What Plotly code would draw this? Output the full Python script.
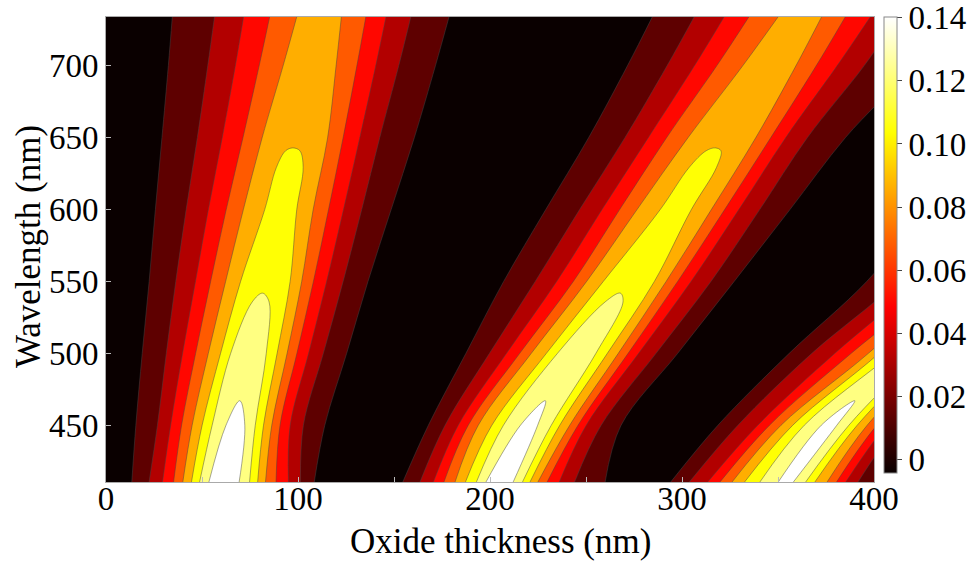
import plotly.graph_objects as go

wavelength_nm = [410, 450, 500, 550, 600, 650, 700, 735]

# Feature columns: left edge, lobe 1 (8 rising levels, peak, 8 falling levels),
# valley, lobe 2 (17), valley, lobe 3 (17)
feature_index = list(range(54))

# Oxide thickness (nm) of each feature on each wavelength row
thickness_410 = [0, 13.3, 22.3, 29.3, 35.1, 39.9, 44.4, 48.6, 53.4, 61.4, 69.4, 74.8, 79.0, 83.1, 88.6, 95.1, 101.4, 108.5,
                 131, 154.3, 163.3, 170.3, 175.8, 181.6, 187.0, 192.7, 197.6, 204.8, 212.0, 216.8, 220.7, 224.8, 229.6, 236.0, 244.0, 260.1,
                 277, 293.7, 303.4, 313.0, 319.4, 325.7, 332.2, 340.2, 349.8, 353.8, 357.8, 364.2, 369.0, 375.4, 380.3, 385.1, 391.5, 404]
thickness_450 = [0, 15.4, 26.7, 33.6, 39.3, 44.8, 50.0, 55.2, 62.2, 67.4, 72.6, 77.8, 82.1, 86.4, 90.7, 96.0, 102.9, 114.1,
                 141, 167.8, 176.5, 183.4, 188.6, 193.8, 200.9, 206.9, 215.6, 220.4, 225.1, 232.0, 236.4, 241.6, 245.9, 250.2, 258.0, 268.4,
                 293, 318.6, 329.0, 339.4, 345.5, 351.5, 357.6, 363.6, 372.3, 376.6, 380.9, 387.0, 391.3, 396.5, 401.5, 406.5, 412.5, 424]
thickness_500 = [0, 18.7, 31.3, 39.8, 46.6, 53.2, 59.6, 64.8, 69.5, 74.2, 79.0, 83.6, 89.2, 94.4, 99.5, 105.6, 113.3, 125.5,
                 156, 187.3, 199.6, 208.5, 215.4, 221.4, 229.3, 235.0, 240.2, 245.3, 250.3, 255.3, 261.2, 266.9, 272.0, 277.5, 286.6, 297.9,
                 326, 355.7, 367.5, 379.5, 388.0, 397.0, 402.5, 409.5, 412.5, 416.0, 419.5, 423, 428, 433, 438, 443, 450, 462]
thickness_550 = [0, 22.3, 36.2, 46.5, 54.4, 62.2, 70.0, 74.5, 78.8, 83.0, 87.3, 91.6, 96.0, 102.0, 108.1, 115.0, 123.6, 136.6,
                 172, 206.9, 223.4, 234.6, 243.3, 250.2, 258.9, 263.3, 267.8, 272.3, 276.8, 281.2, 285.7, 291.8, 297.8, 304.8, 315.2, 327.3,
                 360, 396, 412, 423, 433.5, 438, 442, 447, 451, 455, 459, 463, 467, 472, 477, 482, 490, 503]
thickness_600 = [0, 25.5, 41.6, 53.2, 62.5, 71.4, 82.5, 85.5, 88.3, 91.0, 93.8, 96.6, 99.5, 108.0, 116.0, 123.8, 133.3, 148.7,
                 188, 228.8, 246.5, 258.2, 267.4, 276.4, 288.5, 291.2, 293.8, 296.4, 299.3, 302.1, 305.0, 315.4, 322.3, 329.7, 340.6, 356.4,
                 393, 427, 445, 458, 468, 476, 484, 489, 493, 497, 501, 505, 510, 518, 526, 534, 545, 560]
thickness_650 = [0, 28.9, 47.4, 60.4, 71.2, 81.2, 87.0, 91.0, 94.7, 98.4, 102.6, 107.0, 111.3, 115.5, 123.6, 132.3, 142.7, 160.8,
                 203, 251.1, 270.1, 282.3, 291.8, 303.0, 308.5, 312.5, 316.7, 320.8, 325.0, 329.2, 333.5, 338.5, 346.3, 354.1, 365.4, 385.3,
                 426, 463, 483, 497, 508, 518, 524, 528, 531, 534, 537, 540, 544, 552, 561, 570, 583, 600]
thickness_700 = [0, 32.2, 52.8, 67.2, 79.6, 92.0, 96.5, 99.8, 102.8, 105.7, 109.5, 113.3, 116.7, 120.0, 130.8, 140.6, 152.6, 171.8,
                 221, 271.3, 292.0, 306.3, 317.9, 331.4, 335.3, 338.7, 342.0, 345.3, 348.8, 352.3, 356.0, 359.5, 370.0, 380.9, 395.0, 420.0,
                 458, 500, 521, 536, 548, 559, 565, 569, 572, 575, 578, 581, 585, 592, 602, 612, 626, 645]
thickness_735 = [0, 34.3, 56.4, 71.6, 85.2, 99.0, 103.0, 106.0, 108.5, 111.0, 113.5, 116.5, 119.8, 123.1, 135.6, 146.1, 159.1, 179.1,
                 232, 284.6, 306.5, 322.2, 335.1, 350.0, 354.0, 357.0, 359.3, 361.7, 364.2, 367.0, 370.2, 373.5, 385.6, 398.7, 413.0, 436.0,
                 481, 524, 547, 563, 576, 588, 594, 597, 600, 603, 606, 609, 612, 618, 630, 641, 655, 675]

# Graphene contrast at each feature on each wavelength row
contrast_410 = [-0.003, 0.010, 0.026, 0.042, 0.058, 0.074, 0.090, 0.106, 0.122, 0.137, 0.122, 0.106, 0.090, 0.074, 0.058, 0.042, 0.026, 0.010,
                -0.005, 0.010, 0.026, 0.042, 0.058, 0.074, 0.090, 0.106, 0.122, 0.136, 0.122, 0.106, 0.090, 0.074, 0.058, 0.042, 0.026, 0.010,
                -0.005, 0.010, 0.026, 0.042, 0.058, 0.074, 0.090, 0.106, 0.122, 0.131, 0.122, 0.106, 0.090, 0.074, 0.058, 0.042, 0.026, 0.010]
contrast_450 = [-0.003, 0.010, 0.026, 0.042, 0.058, 0.074, 0.090, 0.106, 0.122, 0.1254, 0.122, 0.106, 0.090, 0.074, 0.058, 0.042, 0.026, 0.010,
                -0.005, 0.010, 0.026, 0.042, 0.058, 0.074, 0.090, 0.106, 0.122, 0.1254, 0.122, 0.106, 0.090, 0.074, 0.058, 0.042, 0.026, 0.010,
                -0.005, 0.010, 0.026, 0.042, 0.058, 0.074, 0.090, 0.106, 0.122, 0.1254, 0.122, 0.106, 0.090, 0.074, 0.058, 0.042, 0.026, 0.010]
contrast_500 = [-0.003, 0.010, 0.026, 0.042, 0.058, 0.074, 0.090, 0.106, 0.113, 0.116, 0.113, 0.106, 0.090, 0.074, 0.058, 0.042, 0.026, 0.010,
                -0.005, 0.010, 0.026, 0.042, 0.058, 0.074, 0.090, 0.106, 0.113, 0.116, 0.113, 0.106, 0.090, 0.074, 0.058, 0.042, 0.026, 0.010,
                -0.005, 0.010, 0.026, 0.042, 0.058, 0.074, 0.090, 0.106, 0.113, 0.116, 0.113, 0.106, 0.090, 0.074, 0.058, 0.042, 0.026, 0.010]
contrast_550 = [-0.003, 0.010, 0.026, 0.042, 0.058, 0.074, 0.090, 0.099, 0.1035, 0.1043, 0.1035, 0.099, 0.090, 0.074, 0.058, 0.042, 0.026, 0.010,
                -0.005, 0.010, 0.026, 0.042, 0.058, 0.074, 0.090, 0.099, 0.1035, 0.1043, 0.1035, 0.099, 0.090, 0.074, 0.058, 0.042, 0.026, 0.010,
                -0.005, 0.010, 0.026, 0.042, 0.058, 0.074, 0.090, 0.099, 0.1035, 0.1043, 0.1035, 0.099, 0.090, 0.074, 0.058, 0.042, 0.026, 0.010]
contrast_600 = [-0.003, 0.010, 0.026, 0.042, 0.058, 0.074, 0.090, 0.094, 0.0965, 0.0975, 0.0965, 0.094, 0.090, 0.074, 0.058, 0.042, 0.026, 0.010,
                -0.005, 0.010, 0.026, 0.042, 0.058, 0.074, 0.090, 0.094, 0.0965, 0.0975, 0.0965, 0.094, 0.090, 0.074, 0.058, 0.042, 0.026, 0.010,
                -0.005, 0.010, 0.026, 0.042, 0.058, 0.074, 0.090, 0.094, 0.0965, 0.0975, 0.0965, 0.094, 0.090, 0.074, 0.058, 0.042, 0.026, 0.010]
contrast_650 = [-0.003, 0.010, 0.026, 0.042, 0.058, 0.074, 0.0845, 0.0875, 0.0888, 0.089, 0.0888, 0.0875, 0.0845, 0.074, 0.058, 0.042, 0.026, 0.010,
                -0.005, 0.010, 0.026, 0.042, 0.058, 0.074, 0.0845, 0.0875, 0.0888, 0.089, 0.0888, 0.0875, 0.0845, 0.074, 0.058, 0.042, 0.026, 0.010,
                -0.005, 0.010, 0.026, 0.042, 0.058, 0.074, 0.0845, 0.0875, 0.0888, 0.089, 0.0888, 0.0875, 0.0845, 0.074, 0.058, 0.042, 0.026, 0.010]
contrast_700 = [-0.003, 0.010, 0.026, 0.042, 0.058, 0.074, 0.078, 0.0805, 0.0812, 0.0815, 0.0812, 0.0805, 0.078, 0.074, 0.058, 0.042, 0.026, 0.010,
                -0.005, 0.010, 0.026, 0.042, 0.058, 0.074, 0.078, 0.0805, 0.0812, 0.0815, 0.0812, 0.0805, 0.078, 0.074, 0.058, 0.042, 0.026, 0.010,
                -0.005, 0.010, 0.026, 0.042, 0.058, 0.074, 0.078, 0.0805, 0.0812, 0.0815, 0.0812, 0.0805, 0.078, 0.074, 0.058, 0.042, 0.026, 0.010]
contrast_735 = [-0.003, 0.010, 0.026, 0.042, 0.058, 0.074, 0.0755, 0.0765, 0.0768, 0.077, 0.0768, 0.0765, 0.0755, 0.074, 0.058, 0.042, 0.026, 0.010,
                -0.005, 0.010, 0.026, 0.042, 0.058, 0.074, 0.0755, 0.0765, 0.0768, 0.077, 0.0768, 0.0765, 0.0755, 0.074, 0.058, 0.042, 0.026, 0.010,
                -0.005, 0.010, 0.026, 0.042, 0.058, 0.074, 0.0755, 0.0765, 0.0768, 0.077, 0.0768, 0.0765, 0.0755, 0.074, 0.058, 0.042, 0.026, 0.010]

x_tick_values = [0, 50, 100, 150, 200, 250, 300, 350, 400]
x_tick_labels = ["0", "", "100", "", "200", "", "300", "", "400"]
y_tick_values = [450, 500, 550, 600, 650, 700]
y_tick_labels = ["450", "500", "550", "600", "650", "700"]
cbar_tick_values = [0, 0.02, 0.04, 0.06, 0.08, 0.10, 0.12, 0.14]
cbar_tick_labels = ["0", "0.02", "0.04", "0.06", "0.08", "0.10", "0.12", "0.14"]

hot = [[0.0, "rgb(10,0,0)"], [0.365079, "rgb(255,0,0)"],
       [0.746032, "rgb(255,255,0)"], [1.0, "rgb(255,255,255)"]]

thickness_rows = [thickness_410, thickness_450, thickness_500, thickness_550,
                  thickness_600, thickness_650, thickness_700, thickness_735]
contrast_rows = [contrast_410, contrast_450, contrast_500, contrast_550,
                 contrast_600, contrast_650, contrast_700, contrast_735]
wavelength_rows = [[w] * len(feature_index) for w in wavelength_nm]

hidden_axis = dict(smoothing=0, showgrid=False, showline=False, showticklabels="none",
                   startline=False, endline=False, minorgridcount=0,
                   gridcolor="rgba(0,0,0,0)", linecolor="rgba(0,0,0,0)")

fig = go.Figure()
fig.add_trace(go.Carpet(a=feature_index, b=wavelength_nm, x=thickness_rows, y=wavelength_rows,
                        carpet="grid", aaxis=hidden_axis, baxis=hidden_axis))
fig.add_trace(go.Contourcarpet(a=feature_index, b=wavelength_nm, z=contrast_rows, carpet="grid",
                               autocontour=False,
                               contours=dict(start=0.0102, end=0.1222, size=0.016, coloring="fill", showlines=True),
                               line=dict(color="rgba(70,70,70,0.6)", width=0.8, smoothing=1),
                               colorscale=hot, showscale=False))
fig.add_trace(go.Scatter(x=[-100], y=[500], mode="markers", hoverinfo="skip", showlegend=False,
                         marker=dict(size=1, color=[0.0], colorscale=hot, cmin=-0.0042, cmax=0.1402,
                                     showscale=True,
                                     colorbar=dict(thickness=13, len=456 / 465, lenmode="fraction",
                                                   x=1 + 10 / 768, xanchor="left", xpad=0,
                                                   y=9 / 465, yanchor="bottom", ypad=0,
                                                   outlinewidth=1, outlinecolor="#888",
                                                   tickmode="array", tickvals=cbar_tick_values, ticktext=cbar_tick_labels,
                                                   ticks="outside", ticklen=5, tickcolor="#444",
                                                   tickfont=dict(family="Liberation Serif", size=33, color="black")))))

fig.update_layout(width=967, height=563, margin=dict(l=106, r=93, t=17, b=81, autoexpand=False),
                  paper_bgcolor="white", plot_bgcolor="rgb(10,0,0)",
                  font=dict(family="Liberation Serif", size=33, color="black"), showlegend=False,
                  annotations=[
                      dict(text="Oxide thickness (nm)", xref="paper", yref="paper", x=(500 - 106) / 768,
                           y=(482 - 541) / 465, xanchor="center", yanchor="middle", showarrow=False,
                           font=dict(family="Liberation Serif", size=35, color="black")),
                      dict(text="Wavelength (nm)", xref="paper", yref="paper", x=(28 - 106) / 768,
                           y=(482 - 247) / 465, xanchor="center", yanchor="middle", showarrow=False,
                           textangle=-90, font=dict(family="Liberation Serif", size=35, color="black")),
                  ])
fig.update_xaxes(range=[0, 400], tickmode="array", tickvals=x_tick_values, ticktext=x_tick_labels,
                 ticks="inside", ticklen=5, tickcolor="#bbb", showgrid=False, zeroline=False,
                 showline=True, linecolor="#aaa", linewidth=1, mirror=True, ticklabelstandoff=-13,
                 tickfont=dict(family="Liberation Serif", size=33, color="black"))
fig.update_yaxes(range=[410.5, 734], tickmode="array", tickvals=y_tick_values, ticktext=y_tick_labels,
                 ticks="inside", ticklen=5, tickcolor="#bbb", showgrid=False, zeroline=False,
                 showline=True, linecolor="#aaa", linewidth=1, mirror=True,
                 tickfont=dict(family="Liberation Serif", size=33, color="black"))

fig.write_html("out.html")
